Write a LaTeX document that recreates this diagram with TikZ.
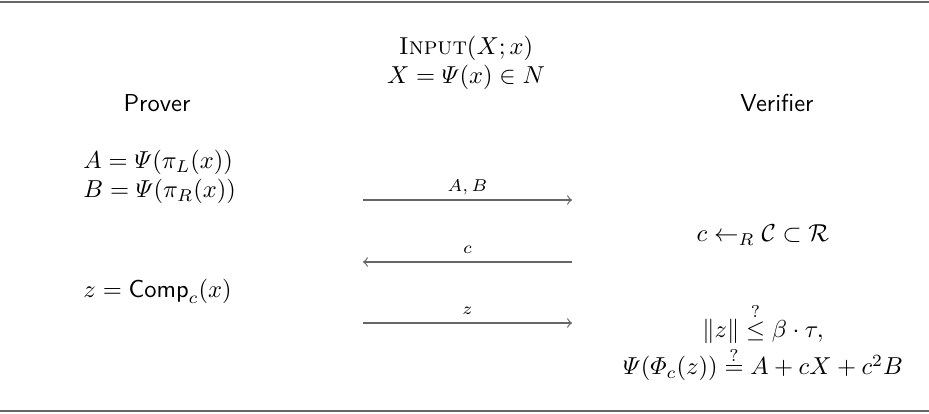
\documentclass[tikz,border=0pt]{standalone}
\usepackage{amsmath,amssymb}
\begin{document}
\begin{tikzpicture}[x=0.408pt,y=-0.408pt,
  lbl/.style={inner sep=0pt, anchor=base},
  lbw/.style={inner sep=0pt, anchor=base west},
  msg/.style={draw=black!60, line width=0.5pt, ->},
  tag/.style={inner sep=0pt, anchor=base, yshift=3.3pt, font=\scriptsize},
  rulel/.style={draw=black!60, line width=0.9pt}]
\useasboundingbox (0,0) rectangle (929,414);
% rules
\coordinate (tl) at (0,2); \coordinate (tr) at (929,2);
\coordinate (bl) at (0,411); \coordinate (br) at (929,411);
\draw[rulel] (tl) -- (tr);
\draw[rulel] (bl) -- (br);
% header
\node[lbl] (input) at (466,84) {$\begin{array}[b]{@{}c@{}}\textsc{Input}(X;x)\\ X=\varPsi(x)\in N\end{array}$};
\node[lbl] (prover) at (157,112) {\textsf{Prover}};
\node[lbl] (verifier) at (777,112) {\textsf{Verifier}};
% prover side
\node[lbw] (pAB) at (83,198) {$\begin{array}[b]{@{}l@{}}A=\varPsi(\pi_L(x))\\ B=\varPsi(\pi_R(x))\end{array}$};
\node[lbw] (pz) at (83,298) {$z=\mathsf{Comp}_c(x)$};
% verifier side
\node[lbl] (vc) at (763,242) {$c\leftarrow_R\mathcal{C}\subset\mathcal{R}$};
\node[lbl] (vchk) at (763,375) {$\begin{array}[b]{@{}c@{}}\|z\|\overset{?}{\le}\beta\cdot\tau,\\ \varPsi(\varPhi_c(z))\overset{?}{=}A+cX+c^2B\end{array}$};
% messages
\coordinate (m1s) at (363,200); \coordinate (m1e) at (572,200);
\coordinate (m2s) at (572,262); \coordinate (m2e) at (363,262);
\coordinate (m3s) at (363,323); \coordinate (m3e) at (572,323);
\draw[msg] (m1s) -- node[tag] (t1) {$A,B$} (m1e);
\draw[msg] (m2s) -- node[tag] (t2) {$c$} (m2e);
\draw[msg] (m3s) -- node[tag] (t3) {$z$} (m3e);
\end{tikzpicture}
\end{document}
